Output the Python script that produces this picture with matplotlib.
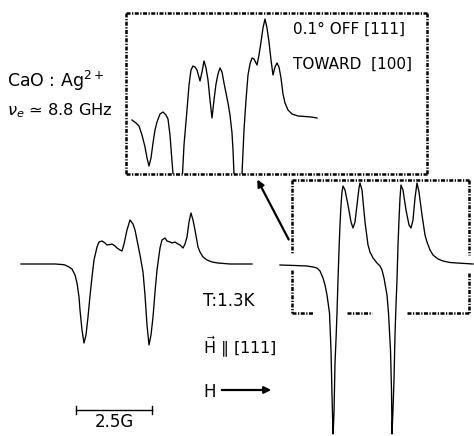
import matplotlib
matplotlib.use("Agg")
import matplotlib.pyplot as plt

W, H = 474, 436

# ---- data (field offset, signal amplitude; arbitrary chart units) ----
left_field = [0, 19, 34, 41, 44, 48, 51, 54, 56, 58, 59, 61, 63, 65, 67, 69, 71, 73, 76, 78,
              81, 84, 86, 89, 91, 94, 96, 99, 101, 103, 106, 109, 112, 114, 116, 119, 122, 124,
              126, 128, 130, 132, 134, 136, 139, 141, 144, 146, 149, 151, 154, 157, 159, 162,
              164, 166, 168, 170, 172, 174, 177, 179, 182, 186, 191, 197, 209, 231]
left_signal = [0, 0, 0, -0.5, -1, -3, -5, -11, -19, -33, -46, -66, -79, -71, -53, -32, -13, 4, 17, 22,
               23, 21, 19, 19.5, 20, 18, 16, 14, 13, 20, 34, 44, 40, 34, 24, 9, -8, -31,
               -61, -81, -71, -53, -28, -6, 16, 24, 26, 23, 22, 21, 22, 20, 19, 16,
               20, 27, 42, 51, 44, 34, 17, 12, 7, 4, 2, 1, 0, 0]

right_field = [0, 15, 27, 33, 37, 40, 43, 45, 47, 49.5, 51, 52, 53, 53.5, 54, 55, 56, 57, 58, 59,
               60, 61, 62, 63, 65, 68, 71, 73, 75, 77, 79, 80, 82, 85, 88, 90, 93, 97, 100, 102,
               104, 107, 108.5, 110.5, 111.5, 112, 113, 114, 115, 116, 117, 118, 119, 120, 121,
               123, 126, 129, 131, 133, 135, 137, 139, 142, 145, 147, 150, 153, 158, 163, 170,
               177, 185, 193]
right_signal = [0, -0.5, -1, -2, -3, -6, -13, -20, -30, -48, -85, -130, -169, -160, -148, -98, -75, -48, -15, 15,
                40, 60, 73, 79, 75, 60, 43, 37, 43, 60, 77, 82, 75, 43, 20, 13, 7, 2, -1, -5,
                -13, -30, -48, -85, -125, -169, -145, -115, -70, -40, -15, 20, 45, 67, 80,
                75, 55, 40, 37, 45, 67, 82, 73, 50, 30, 23, 15, 10, 6, 4, 2.5,
                2, 1.5, 1]

zoom_field = [6, 10, 13, 16, 19, 21, 23, 25, 27, 29, 31, 34, 37, 40, 42, 44, 45.5, 47, 48.5, 55.5,
              56.5, 58, 61, 63, 65, 67, 69, 71, 74, 76, 78, 80, 82, 84, 86, 88, 90, 92, 94, 96,
              98, 100, 102, 104, 106, 107, 108, 109, 115, 116, 118, 120, 122, 124, 126, 128, 130,
              131, 133, 135, 137, 139, 141, 143, 145, 147, 149, 151, 153, 155, 157, 159, 162, 166,
              172, 179, 185, 191]
zoom_signal = [54, 51, 48, 39, 27, 16, 8, 16, 31, 44, 52, 60, 62, 59, 55, 39, 19, 0, -21, -21,
               0, 29, 64, 89, 104, 108, 107, 104, 93, 102, 113, 106, 94, 74, 56, 74, 90, 100, 106, 102,
               91, 81, 71, 59, 41, 24, 0, -21, -21, 0, 44, 74, 99, 110, 116, 115, 111,
               109, 119, 132, 146, 155, 146, 132, 114, 99, 107, 111, 107, 96, 80, 71, 64, 60,
               58, 57.5, 57, 56]

scale_bar_label = "2.5G"

fig = plt.figure(figsize=(W / 100, H / 100), dpi=100)
fig.patch.set_facecolor("white")

FONT = ["DejaVu Sans"]
DASH = (0, (1.6, 0.6, 0.5, 0.6))
BOX_LW = 1.8
CURVE_LW = 0.95


def px_axes(x0, y0, x1, y1, zorder=1):
    return fig.add_axes([x0 / W, 1 - y1 / H, (x1 - x0) / W, (y1 - y0) / H], zorder=zorder)


# page overlay for annotations
page = fig.add_axes([0, 0, 1, 1], zorder=3)
page.set_xlim(0, W)
page.set_ylim(H, 0)
page.axis("off")
page.patch.set_alpha(0)

# left spectrum
axl = px_axes(21, 200, 252, 360)
axl.plot(left_field, left_signal, color="black", lw=CURVE_LW, clip_on=False)
axl.set_xlim(0, 231)
axl.set_ylim(-96, 64)
axl.axis("off")

# right spectrum
axr = px_axes(280, 170, 474, 436)
axr.plot(right_field, right_signal, color="black", lw=CURVE_LW, clip_on=False)
axr.set_xlim(0, 194)
axr.set_ylim(-171, 95)
axr.axis("off")

# magnified inset
axz = px_axes(126, 13, 427, 174, zorder=2)
axz.plot(zoom_field, zoom_signal, color="black", lw=CURVE_LW)
axz.set_xlim(0, 301)
axz.set_ylim(0, 161)
axz.axis("off")

# dash-dot boxes (inset frame, and frame around the right spectrum broken where the trace passes)
box_segments = [
    ((126, 13), (427, 13)), ((126, 174), (427, 174)),
    ((126, 13), (126, 174)), ((427, 13), (427, 174)),
    ((292, 180), (469, 180)),
    ((292, 180), (292, 253)), ((292, 270), (292, 313)),
    ((292, 313), (313, 313)), ((347, 313), (372, 313)), ((407, 313), (469, 313)),
    ((469, 180), (469, 255)), ((469, 273), (469, 313)),
]
for (xa, ya), (xb, yb) in box_segments:
    page.plot([xa, xb], [ya, yb], color="black", lw=BOX_LW, linestyle=DASH, solid_capstyle="butt")

# arrow from the box to the inset
page.annotate("", xy=(256, 177), xytext=(290, 242),
              arrowprops=dict(arrowstyle="-|>", color="black", lw=1.6, mutation_scale=10))

# scale bar
page.plot([76, 152], [410, 410], color="black", lw=1.0)
page.plot([76, 76], [406, 414], color="black", lw=1.0)
page.plot([152, 152], [406, 414], color="black", lw=1.0)
page.text(114, 422, scale_bar_label, ha="center", va="center", fontsize=12, family=FONT)

# labels
page.text(7, 81, "CaO : Ag$^{2+}$", ha="left", va="center", fontsize=12.5, family=FONT)
page.text(7, 111, "$\\nu_e$ \u2243 8.8 GHz", ha="left", va="center", fontsize=11.7, family=FONT)
page.text(293, 29, "0.1\u00b0 OFF [111]", ha="left", va="center", fontsize=11, family=FONT)
page.text(293, 64, "TOWARD  [100]", ha="left", va="center", fontsize=11, family=FONT)
page.text(203, 301, "T:1.3K", ha="left", va="center", fontsize=12, family=FONT)
page.text(203, 347, "$\\vec{\\mathrm{H}}$ \u2225 [111]", ha="left", va="center", fontsize=11.5, family=FONT)
page.text(203, 392, "H", ha="left", va="center", fontsize=12, family=FONT)
page.annotate("", xy=(274, 390), xytext=(219, 390),
              arrowprops=dict(arrowstyle="-|>", color="black", lw=1.6, mutation_scale=10))

fig.savefig("out.png", dpi=100, facecolor="white")
